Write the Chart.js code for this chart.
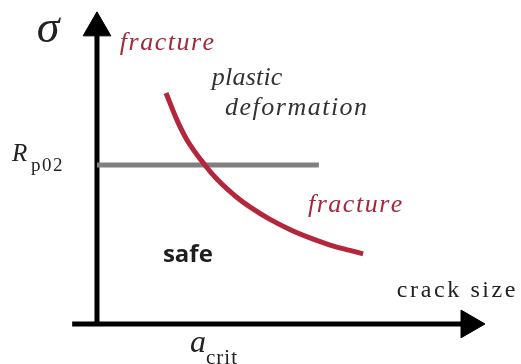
<!DOCTYPE html>
<html>
<head>
<meta charset="utf-8">
<script src="https://cdn.jsdelivr.net/npm/chart.js@4/dist/chart.umd.min.js"></script>
<style>
  html, body { margin: 0; padding: 0; background: #ffffff; }
  #wrap { width: 521px; height: 364px; }
</style>
</head>
<body>
<div id="wrap"><canvas id="chart" width="521" height="364"></canvas></div>
<script>
// Crack size (arbitrary units) along the fracture-stress curve
const crackSize = [1.78, 2.06, 2.32, 2.78, 3.09, 3.61, 3.94, 4.46, 4.97, 5.49, 6.01, 6.52, 6.86];
// Fracture stress at each crack size
const fractureStress = [7.38, 6.52, 5.88, 5.08, 4.63, 4.04, 3.74, 3.34, 3.02, 2.75, 2.52, 2.35, 2.24];
// Yield strength R_p0.2 and the crack-size span of its line
const yieldStrength = 5.08;
const yieldSpan = [0, 5.72];
// Extents of the two axis arrows (the last value is where the arrowhead sits)
const xAxisSpan = [-0.64, 9.59];
const yAxisSpan = [0, 9.46];
// Visible window of the plane
const xWindow = [-2.5, 10.93];
const yWindow = [-1.28, 10.35];

// Text drawn on the diagram
const labelTexts = ['σ', 'fracture', 'plastic', 'deformation', 'fracture', 'safe', 'crack size', 'R', 'p02', 'a', 'crit'];
// Anchor of each text (left/centre, baseline) in plane units
const labelAnchors = [
  [-1.26, 9.01], [0.59, 8.75], [2.96, 7.64], [3.30, 6.68], [5.44, 3.58],
  [1.70, 1.98], [7.73, 0.86], [-2.19, 5.21], [-1.70, 4.89], [2.40, -0.89], [2.81, -1.27]
];

const SERIF = "'Liberation Serif', serif";
const labelStyles = [
  { font: `italic 46px ${SERIF}`, color: '#222222', align: 'center', spacing: 0 },
  { font: `italic 26px ${SERIF}`, color: '#a3283a', spacing: 1.5 },
  { font: `italic 26px ${SERIF}`, color: '#333333', spacing: 0.2 },
  { font: `italic 26px ${SERIF}`, color: '#333333', spacing: 1.5 },
  { font: `italic 26px ${SERIF}`, color: '#a3283a', spacing: 1.5 },
  { font: `bold 24px 'Open Sans', sans-serif`, color: '#1e1e1e', spacing: 0 },
  { font: `24px ${SERIF}`, color: '#222222', spacing: 2.6 },
  { font: `italic 25px ${SERIF}`, color: '#222222', spacing: 0 },
  { font: `19px ${SERIF}`, color: '#222222', spacing: 1.5 },
  { font: `italic 32px ${SERIF}`, color: '#222222', spacing: 0 },
  { font: `21px ${SERIF}`, color: '#222222', spacing: 1 }
];

// Draws a string glyph by glyph so that extra tracking can be applied
function drawTracked(ctx, text, x, y, spacing, align) {
  const chars = Array.from(text);
  const widths = chars.map(c => ctx.measureText(c).width);
  const total = widths.reduce((s, w) => s + w, 0) + spacing * (chars.length - 1);
  let cx = align === 'center' ? x - total / 2 : x;
  ctx.textAlign = 'left';
  chars.forEach((c, i) => {
    ctx.fillText(c, cx, y);
    cx += widths[i] + spacing;
  });
}

const labelsPlugin = {
  id: 'diagramLabels',
  afterDatasetsDraw(chart) {
    const { ctx } = chart;
    const xs = chart.scales.x, ys = chart.scales.y;
    ctx.save();
    ctx.textBaseline = 'alphabetic';
    labelTexts.forEach((text, i) => {
      const st = labelStyles[i];
      ctx.font = st.font;
      ctx.fillStyle = st.color;
      drawTracked(ctx, text,
        xs.getPixelForValue(labelAnchors[i][0]),
        ys.getPixelForValue(labelAnchors[i][1]),
        st.spacing, st.align || 'left');
    });
    ctx.restore();
  }
};

const curve = crackSize.map((a, i) => ({ x: a, y: fractureStress[i] }));
const arrowRadius = (ctx) => (ctx.dataIndex === 1 ? 16 : 0);

new Chart(document.getElementById('chart'), {
  type: 'scatter',
  data: {
    datasets: [
      {
        data: curve,
        showLine: true,
        borderColor: '#b4263b',
        borderWidth: 5,
        borderCapStyle: 'butt',
        cubicInterpolationMode: 'monotone',
        pointRadius: 0,
        order: 0
      },
      {
        data: [{ x: yieldSpan[0], y: yieldStrength }, { x: yieldSpan[1], y: yieldStrength }],
        showLine: true,
        borderColor: '#808080',
        borderWidth: 5,
        borderCapStyle: 'butt',
        pointRadius: 0,
        order: 1
      },
      {
        data: [{ x: xAxisSpan[0], y: 0 }, { x: xAxisSpan[1], y: 0 }],
        showLine: true,
        borderColor: '#000000',
        borderWidth: 5,
        borderCapStyle: 'butt',
        pointStyle: 'triangle',
        rotation: 90,
        pointRadius: arrowRadius,
        pointBackgroundColor: '#000000',
        pointBorderColor: '#000000',
        pointBorderWidth: 1,
        clip: false,
        order: 2
      },
      {
        data: [{ x: 0, y: yAxisSpan[0] }, { x: 0, y: yAxisSpan[1] }],
        showLine: true,
        borderColor: '#000000',
        borderWidth: 5,
        borderCapStyle: 'butt',
        pointStyle: 'triangle',
        rotation: 0,
        pointRadius: arrowRadius,
        pointBackgroundColor: '#000000',
        pointBorderColor: '#000000',
        pointBorderWidth: 1,
        clip: false,
        order: 3
      }
    ]
  },
  options: {
    responsive: false,
    animation: false,
    devicePixelRatio: 1,
    layout: { padding: 0, autoPadding: false },
    events: [],
    plugins: { legend: { display: false }, tooltip: { enabled: false } },
    scales: {
      x: { type: 'linear', display: false, min: xWindow[0], max: xWindow[1] },
      y: { type: 'linear', display: false, min: yWindow[0], max: yWindow[1] }
    }
  },
  plugins: [labelsPlugin]
});
</script>
</body>
</html>
